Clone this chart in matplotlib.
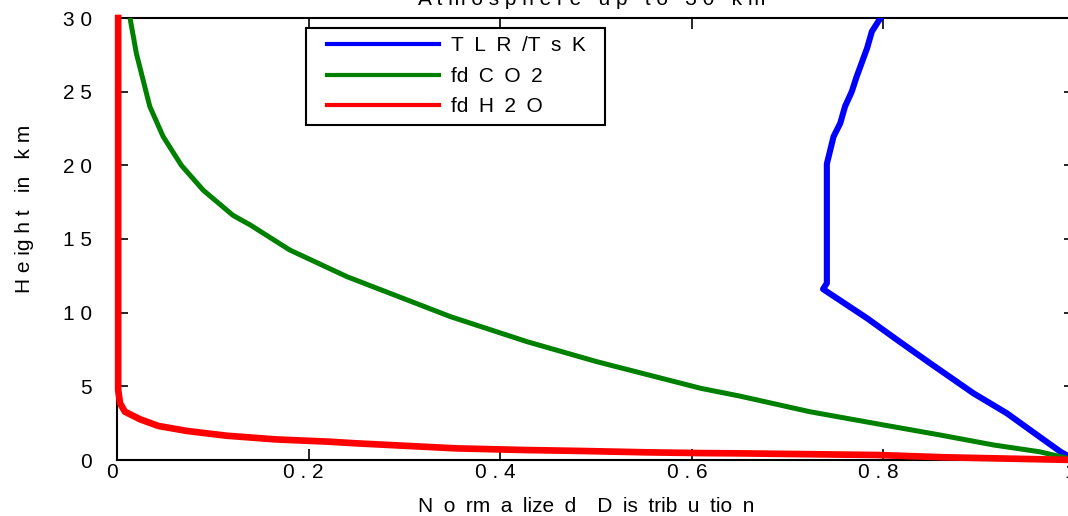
import matplotlib
matplotlib.use("Agg")
import matplotlib.pyplot as plt
import matplotlib.transforms as mtransforms
from matplotlib import font_manager
from matplotlib.legend_handler import HandlerLine2D
from matplotlib.lines import Line2D

# data (x = normalized value, y = height in km)
TLR_X = [1.0, 0.985, 0.963, 0.929, 0.894, 0.849, 0.817, 0.783, 0.737,
         0.741, 0.741, 0.748, 0.755, 0.760, 0.767, 0.772, 0.783, 0.788, 0.797]
TLR_Y = [0.0, 0.56, 1.58, 3.17, 4.53, 6.56, 8.03, 9.62, 11.6,
         12.0, 20.1, 21.95, 22.86, 24.0, 25.0, 26.0, 27.95, 29.08, 30.0]

CO2_X = [1.0, 0.963, 0.915, 0.859, 0.80, 0.723, 0.650, 0.609, 0.501, 0.428,
         0.348, 0.240, 0.180, 0.139, 0.121, 0.090, 0.067, 0.048, 0.034,
         0.020, 0.0134]
CO2_Y = [0.0, 0.56, 1.02, 1.70, 2.38, 3.28, 4.34, 4.87, 6.67, 8.03,
         9.73, 12.44, 14.26, 15.95, 16.6, 18.3, 20.0, 21.95, 24.0,
         27.6, 30.0]

H2O_X = [1.0, 0.866, 0.793, 0.650, 0.609, 0.553, 0.487, 0.424, 0.354,
         0.250, 0.222, 0.165, 0.114, 0.073, 0.043, 0.024, 0.008, 0.003,
         0.001, 0.001]
H2O_Y = [0.0, 0.18, 0.34, 0.45, 0.47, 0.52, 0.61, 0.68, 0.79,
         1.13, 1.24, 1.40, 1.65, 1.97, 2.31, 2.76, 3.28, 3.85,
         4.75, 30.0]

# en spaces (U+2002) give the wide letter spacing of the original
SP = "\u2002"
SERIES_LABELS = [SP.join("TLR/") + "T" + SP + "s" + SP + "K",
                 "fd" + SP + "C" + SP + "O" + SP + "2",
                 "fd" + SP + "H" + SP + "2" + SP + "O"]
X_TICKS = [0, 0.2, 0.4, 0.6, 0.8, 1.0]
X_TICK_LABELS = ["0", "0 . 2", "0 . 4", "0 . 6", "0 . 8", "1"]
Y_TICKS = [0, 5, 10, 15, 20, 25, 30]
Y_TICK_LABELS = ["0", "5", "1 0", "1 5", "2 0", "2 5", "3 0"]

TITLE = "A t m o s p h e r e   u p   t o   3 0   k m"
X_LABEL = (SP.join(["N", "o", "rm", "a", "lize", "d"]) + SP * 2
           + SP.join(["D", "is", "trib", "u", "tio", "n"]))
Y_LABEL = "H e ig h t   in   k m"

FIG_W, FIG_H = 1068, 516
FONT_SIZE = 15


def pick_font():
    installed = {f.name for f in font_manager.fontManager.ttflist}
    for name in ["Liberation Sans Narrow", "Liberation Sans", "DejaVu Sans"]:
        if name in installed:
            return name
    return "DejaVu Sans"


def px(x, y):
    # pixel position in the picture -> figure fraction
    return x / FIG_W, 1 - y / FIG_H


def plot_profiles(output_path):
    plt.rcParams.update({
        "font.family": [pick_font(), "DejaVu Sans"],
        "font.size": FONT_SIZE,
    })

    fig = plt.figure(figsize=(FIG_W / 100, FIG_H / 100), dpi=100)
    # the right edge of the axes sits just past the picture, like the reference
    ax = fig.add_axes([117.2 / FIG_W, 56 / FIG_H, 957.7 / FIG_W, 442 / FIG_H])

    ax.plot(TLR_X, TLR_Y, color="#0000ff", linewidth=4.4, zorder=3)
    ax.plot(CO2_X, CO2_Y, color="#008000", linewidth=3.6, zorder=3)
    ax.plot(H2O_X, H2O_Y, color="#ff0000", linewidth=4.8, zorder=3,
            clip_on=False)

    ax.set_xlim(0, 1)
    ax.set_ylim(0, 30)
    ax.set_xticks(X_TICKS, X_TICK_LABELS)
    ax.set_yticks(Y_TICKS, Y_TICK_LABELS)
    ax.tick_params(direction="in", length=8, width=1.2, top=True, right=True,
                   labelsize=FONT_SIZE)
    ax.tick_params(axis="x", pad=2)
    ax.tick_params(axis="y", pad=18)
    for spine in ax.spines.values():
        spine.set_linewidth(1.5)

    # labels in the reference sit a few pixels left of their ticks
    shift = mtransforms.ScaledTranslation(-5 / 100, 0, fig.dpi_scale_trans)
    for label in ax.get_xticklabels():
        label.set_transform(label.get_transform() + shift)

    handles = [
        Line2D([], [], color="#0000ff", linewidth=3.0),
        Line2D([], [], color="#008000", linewidth=3.0),
        Line2D([], [], color="#ff0000", linewidth=3.0),
    ]
    leg = ax.legend(handles, SERIES_LABELS, loc="upper left",
                    bbox_to_anchor=(0.197, 0.756, 0.312, 0.221), mode="expand",
                    fancybox=False, framealpha=1, edgecolor="black",
                    handlelength=6.0, handletextpad=0.55, labelspacing=0.55,
                    borderpad=0.4, borderaxespad=0, fontsize=FONT_SIZE,
                    handler_map={Line2D: HandlerLine2D(xpad=0.6)})
    leg.get_frame().set_linewidth(1.5)
    leg.set_zorder(5)

    fig.text(*px(592, 5), TITLE, ha="center", va="baseline", fontsize=FONT_SIZE)
    fig.text(*px(586, 506), X_LABEL, ha="center", va="center", fontsize=FONT_SIZE)
    fig.text(*px(25, 209), Y_LABEL, ha="center", va="center", rotation=90,
             fontsize=FONT_SIZE)

    fig.savefig(output_path, dpi=100)
    plt.close(fig)


if __name__ == "__main__":
    plot_profiles("out.png")
